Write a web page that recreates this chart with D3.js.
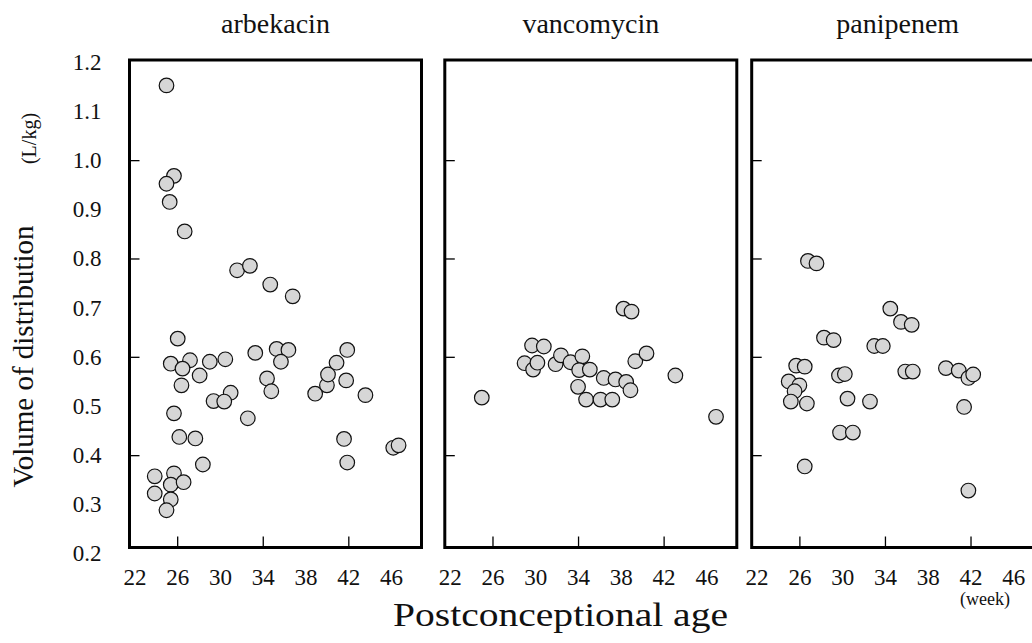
<!DOCTYPE html>
<html>
<head>
<meta charset="utf-8">
<script src="https://cdn.jsdelivr.net/npm/d3@7"></script>
<style>
  html, body { margin: 0; padding: 0; background: #fff; }
  svg { display: block; }
  text { font-family: "Liberation Serif", "Times New Roman", serif; fill: #111; }
</style>
</head>
<body>
<svg id="chart" width="1032" height="643"></svg>
<script>
// ---- data (postconceptional age in weeks, Vd in L/kg) ----
const panelNames = ["arbekacin", "vancomycin", "panipenem"];

const arbekacinAge = [25.0, 25.7, 25.0, 25.3, 26.7, 31.6, 32.8, 34.7, 36.8,
  26.05, 25.4, 27.2, 26.5, 28.1, 26.4, 29.05, 30.5, 33.3, 35.3, 36.4, 35.7, 34.4, 34.8,
  31.0, 29.4, 30.4, 32.6, 25.7, 26.2, 27.7, 28.4, 23.9, 25.7, 25.4, 26.6, 23.9, 25.4, 25.0,
  38.9, 40.0, 40.1, 40.9, 41.9, 41.8, 43.6, 41.6, 41.9, 46.2, 46.7];
const arbekacinVd = [1.152, 0.968, 0.952, 0.915, 0.855, 0.776, 0.785, 0.747, 0.723,
  0.637, 0.586, 0.593, 0.576, 0.562, 0.542, 0.590, 0.595, 0.608, 0.616, 0.614, 0.590, 0.556, 0.530,
  0.527, 0.510, 0.509, 0.475, 0.485, 0.437, 0.434, 0.381, 0.357, 0.363, 0.340, 0.345, 0.322, 0.310, 0.288,
  0.525, 0.542, 0.564, 0.588, 0.614, 0.552, 0.522, 0.433, 0.385, 0.415, 0.420];

const vancomycinAge = [25.0, 29.7, 30.8, 29.0, 29.8, 30.2, 31.9, 32.4, 33.3, 34.4, 34.1, 35.1,
  34.0, 34.75, 36.1, 37.2, 36.4, 37.5, 38.5, 38.9, 38.25, 39.0, 39.35, 40.4, 43.1, 46.9];
const vancomycinVd = [0.517, 0.623, 0.621, 0.587, 0.574, 0.588, 0.585, 0.603, 0.589, 0.601, 0.573, 0.574,
  0.539, 0.513, 0.513, 0.513, 0.557, 0.554, 0.549, 0.532, 0.698, 0.692, 0.591, 0.607, 0.562, 0.478];

const panipenemAge = [26.8, 27.6, 34.5, 35.5, 36.5, 28.3, 29.2, 33.0, 33.8, 25.7, 26.5, 25.0, 26.0,
  25.55, 25.2, 26.7, 29.7, 30.25, 30.5, 32.6, 29.8, 31.0, 26.5, 35.9, 36.6, 39.7, 40.9, 41.8, 42.25, 41.4, 41.8];
const panipenemVd = [0.795, 0.790, 0.698, 0.671, 0.665, 0.639, 0.634, 0.622, 0.622, 0.582, 0.580, 0.550, 0.542,
  0.530, 0.509, 0.505, 0.562, 0.565, 0.515, 0.509, 0.446, 0.446, 0.377, 0.570, 0.570, 0.577, 0.572, 0.557, 0.564, 0.498, 0.328];

const xTickLabels = [22, 26, 30, 34, 38, 42, 46];
const xTickMarks = [26, 34, 42];
const yTickLabels = [0.2, 0.3, 0.4, 0.5, 0.6, 0.7, 0.8, 0.9, 1.0, 1.1, 1.2];
const yTickMarks = [0.4, 0.6, 0.8, 1.0];

// ---- layout ----
const panels = [
  { name: panelNames[0], age: arbekacinAge, vd: arbekacinVd, left: 129.5 },
  { name: panelNames[1], age: vancomycinAge, vd: vancomycinVd, left: 444.8 },
  { name: panelNames[2], age: panipenemAge, vd: panipenemVd, left: 751.7 }
];
const panelW = 292, frameTop = 60, frameBottom = 547.5;

const svg = d3.select("#chart");
const y = d3.scaleLinear().domain([0.2, 1.2]).range([553.5, 61.8]);

panels.forEach((p, i) => {
  const x = d3.scaleLinear().domain([22, 46]).range([p.left + 4.9, p.left + 261.6]);
  const g = svg.append("g");

  // frame
  g.append("rect")
    .attr("x", p.left).attr("y", frameTop)
    .attr("width", panelW).attr("height", frameBottom - frameTop)
    .attr("fill", "none").attr("stroke", "#000").attr("stroke-width", 3);

  // inward y tick marks
  const ya = g.append("g").attr("transform", `translate(${p.left},0)`)
    .call(d3.axisLeft(y).tickValues(yTickMarks).tickSize(-10).tickFormat(""));
  ya.select(".domain").remove();
  ya.selectAll("line").attr("stroke", "#000").attr("stroke-width", 1.3);

  // inward x tick marks
  const xa = g.append("g").attr("transform", `translate(0,${frameBottom})`)
    .call(d3.axisBottom(x).tickValues(xTickMarks).tickSize(-11).tickFormat(""));
  xa.select(".domain").remove();
  xa.selectAll("line").attr("stroke", "#000").attr("stroke-width", 1.3);

  // x labels
  const xl = g.append("g").attr("transform", `translate(0,${frameBottom})`)
    .call(d3.axisBottom(x).tickValues(xTickLabels).tickSize(0).tickPadding(21).tickFormat(d3.format("d")));
  xl.select(".domain").remove();
  xl.selectAll("text").attr("font-size", 23).attr("fill", "#111")
    .attr("font-family", "Liberation Serif, Times New Roman, serif");

  // y labels on first panel only
  if (i === 0) {
    const yl = g.append("g").attr("transform", `translate(${p.left},0)`)
      .call(d3.axisLeft(y).tickValues(yTickLabels).tickSize(0).tickPadding(28).tickFormat(d3.format(".1f")));
    yl.select(".domain").remove();
    yl.selectAll("text").attr("font-size", 23).attr("fill", "#111")
      .attr("font-family", "Liberation Serif, Times New Roman, serif");
  }

  // panel title
  g.append("text")
    .attr("x", p.left + panelW / 2).attr("y", 33)
    .attr("text-anchor", "middle").attr("font-size", 28)
    .text(p.name);

  // points
  const pts = p.age.map((a, k) => ({ a: a, v: p.vd[k] }));
  g.append("g").selectAll("circle").data(pts).join("circle")
    .attr("cx", d => x(d.a)).attr("cy", d => y(d.v)).attr("r", 7.3)
    .attr("fill", "#d6d6d6").attr("stroke", "#111").attr("stroke-width", 1.2);
});

// axis titles
svg.append("text")
  .attr("transform", "translate(33,356.5) rotate(-90)")
  .attr("text-anchor", "middle").attr("font-size", 29)
  .text("Volume of distribution");
svg.append("text")
  .attr("transform", "translate(36,138.5) rotate(-90)")
  .attr("text-anchor", "middle").attr("font-size", 20)
  .text("(L/kg)");
svg.append("text")
  .attr("x", 560.5).attr("y", 626)
  .attr("text-anchor", "middle").attr("font-size", 34)
  .attr("textLength", 335).attr("lengthAdjust", "spacingAndGlyphs")
  .text("Postconceptional age");
svg.append("text")
  .attr("x", 985).attr("y", 605)
  .attr("text-anchor", "middle").attr("font-size", 18)
  .text("(week)");
</script>
</body>
</html>
